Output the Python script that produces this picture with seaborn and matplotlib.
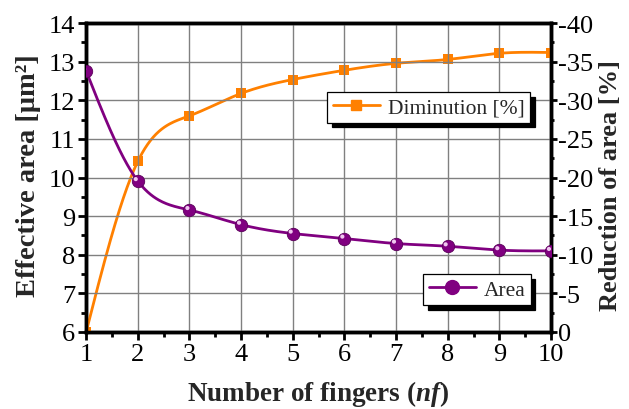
import numpy as np
import pandas as pd
import matplotlib
matplotlib.use("Agg")
import matplotlib.pyplot as plt
from matplotlib.ticker import MultipleLocator
from matplotlib.lines import Line2D
import seaborn as sns

fingers = [1, 2, 3, 4, 5, 6, 7, 8, 9, 10]
area = [12.76, 9.91, 9.16, 8.78, 8.55, 8.42, 8.29, 8.22, 8.12, 8.10]
diminution = [0.0, -22.1, -28.0, -30.9, -32.7, -33.9, -34.8, -35.3, -36.1, -36.2]

sns.set_theme(style="white")
plt.rcParams["font.family"] = ["Liberation Serif", "DejaVu Serif"]
plt.rcParams["mathtext.fontset"] = "custom"
plt.rcParams["mathtext.rm"] = "Liberation Serif:bold"
plt.rcParams["mathtext.bfit"] = "Liberation Serif:bold:italic"
plt.rcParams["mathtext.it"] = "Liberation Serif:bold:italic"

PURPLE = "#800080"
ORANGE = "#FF8000"


def natural_spline(x, y, n=500):
    """Natural cubic spline through the given points."""
    x = np.asarray(x, float)
    y = np.asarray(y, float)
    N = len(x)
    h = np.diff(x)
    A = np.zeros((N, N))
    b = np.zeros(N)
    A[0, 0] = A[-1, -1] = 1.0
    for i in range(1, N - 1):
        A[i, i - 1] = h[i - 1]
        A[i, i] = 2 * (h[i - 1] + h[i])
        A[i, i + 1] = h[i]
        b[i] = 6 * ((y[i + 1] - y[i]) / h[i] - (y[i] - y[i - 1]) / h[i - 1])
    M = np.linalg.solve(A, b)
    xs = np.linspace(x[0], x[-1], n)
    k = np.clip(np.searchsorted(x, xs) - 1, 0, N - 2)
    a = x[k + 1] - xs
    c = xs - x[k]
    hk = h[k]
    ys = (M[k] * a**3 / (6 * hk) + M[k + 1] * c**3 / (6 * hk)
          + (y[k] / hk - M[k] * hk / 6) * a
          + (y[k + 1] / hk - M[k + 1] * hk / 6) * c)
    return xs, ys


fig = plt.figure(figsize=(6.29, 4.10), dpi=100)
ax = fig.add_axes([0.137, 0.188, 0.739, 0.753])
ax2 = ax.twinx()

df = pd.DataFrame({"nf": fingers, "area": area, "dim": diminution})

# Area curve (left axis)
xs, ys = natural_spline(df["nf"], df["area"])
sns.lineplot(x=xs, y=ys, ax=ax, color=PURPLE, lw=2.0, sort=False, zorder=3)
sns.scatterplot(data=df, x="nf", y="area", ax=ax, color=PURPLE, s=80,
                edgecolor="#5a005a", linewidth=0.6, zorder=4)
ax.scatter(df["nf"] - 0.04, df["area"] + 0.05, s=9, color="#f0c8f0",
           edgecolor="none", zorder=5)

# Diminution curve (right axis)
xs2, ys2 = natural_spline(df["nf"], df["dim"])
sns.lineplot(x=xs2, y=ys2, ax=ax2, color=ORANGE, lw=2.0, sort=False, zorder=3)
sns.scatterplot(data=df, x="nf", y="dim", ax=ax2, color=ORANGE, marker="s",
                s=50, edgecolor=ORANGE, linewidth=0, zorder=4)

ax.set_xlim(1, 10)
ax.set_ylim(6, 14)
ax2.set_ylim(0, -40)

ax.xaxis.set_major_locator(MultipleLocator(1))
ax.xaxis.set_minor_locator(MultipleLocator(0.5))
ax.yaxis.set_major_locator(MultipleLocator(1))
ax.yaxis.set_minor_locator(MultipleLocator(0.5))
ax2.yaxis.set_minor_locator(MultipleLocator(2.5))

ax.grid(True, which="major", color="#808080", lw=1.0)
ax.set_axisbelow(True)

for a in (ax, ax2):
    for s in a.spines.values():
        s.set_linewidth(2.5)
        s.set_color("black")

ax.tick_params(axis="both", which="major", direction="out", length=6,
               width=2, labelsize=19, colors="black", pad=2)
ax.tick_params(axis="both", which="minor", direction="out", length=3.5,
               width=2, colors="black")
ax.tick_params(axis="y", which="both", left=True, right=False)
ax.tick_params(axis="x", which="both", bottom=True, top=False)
ax2.tick_params(axis="y", which="major", direction="out", length=4, width=2,
                labelsize=19, colors="black", pad=1)
ax2.tick_params(axis="y", which="minor", direction="out", length=2.5, width=2,
                colors="black")

ax2.set_yticks(np.arange(0, -41, -5))
ax2.set_yticklabels(["0", "-5", "-10", "-15", "-20", "-25", "-30", "-35", "-40"])

ax.set_xlabel(r"Number of fingers ($\mathbfit{nf}$)", fontsize=19.5,
              fontweight="bold")
ax.xaxis.set_label_coords(0.499, -0.148)
ax.set_ylabel("Effective area [μm²]", fontsize=20.5, fontweight="bold")
ax.yaxis.set_label_coords(-0.098, 0.51)
ax2.set_ylabel("Reduction of area [%]", fontsize=19, fontweight="bold")
ax2.yaxis.set_label_coords(1.104, 0.476)
ax.set_zorder(ax2.get_zorder() + 1)
ax.patch.set_visible(False)

# Legends with solid black drop shadows
h_dim = Line2D([], [], color=ORANGE, lw=2.0, marker="s", ms=7)
h_area = Line2D([], [], color=PURPLE, lw=2.0, marker="o", ms=10)
shadow = {"color": "black", "alpha": 1.0, "ox": 3.5, "oy": -3.5}
leg_kw = dict(loc="upper left", fontsize=15.5, frameon=True, fancybox=False,
              shadow=shadow, edgecolor="black", borderpad=0.25,
              handlelength=2.2, handletextpad=0.35, borderaxespad=0)
leg1 = ax.legend([h_dim], ["Diminution [%]"],
                 bbox_to_anchor=(0.519, 0.778), **leg_kw)
leg1.get_frame().set_linewidth(0.9)
ax.add_artist(leg1)
leg2 = ax.legend([h_area], ["Area"], bbox_to_anchor=(0.725, 0.187), **leg_kw)
leg2.get_frame().set_linewidth(0.9)

fig.savefig("out.png", dpi=100)
